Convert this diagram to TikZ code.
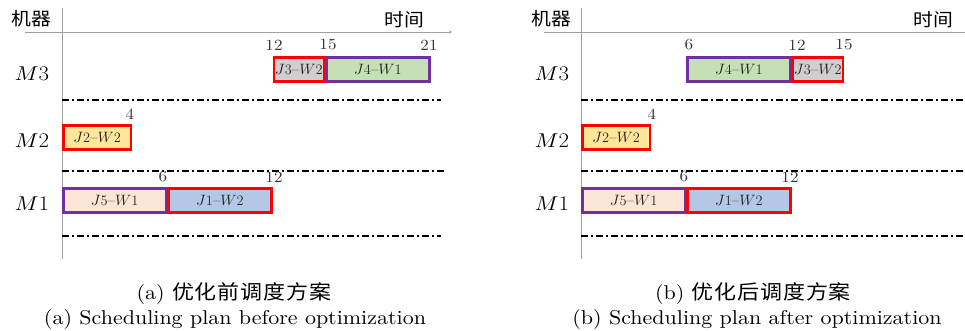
\documentclass[tikz,border=0pt]{standalone}
\usepackage{fontspec}
\usepackage{graphicx}
\setmainfont{lmroman10-regular.otf}[ItalicFont=lmroman10-italic.otf, BoldFont=lmroman10-bold.otf]
\newfontfamily\cjk{Noto Sans CJK SC}
\DeclareFontShape{OML}{cmm}{m}{it}{<->cmmi10}{}
\usetikzlibrary{arrows.meta}
\definecolor{cred}{HTML}{FF0000}
\definecolor{cpurple}{HTML}{7030A0}
\definecolor{cgrey}{HTML}{D0CECE}
\definecolor{cgreen}{HTML}{C5E0B4}
\definecolor{cyellow}{HTML}{FFE699}
\definecolor{cpeach}{HTML}{FBE5D6}
\definecolor{cblue}{HTML}{B4C7E7}
\definecolor{caxis}{HTML}{A0A0A0}
\newcommand\hs[1]{\scalebox{1.1}[1]{#1}}
\newcommand\gtask[8]{%
  \pgfmathsetmacro\gta{#2+#3*17.55}%
  \pgfmathsetmacro\gtb{#2+#4*17.55}%
  \pgfmathsetmacro\gtw{\gtb-\gta-2.6}%
  \pgfmathsetmacro\gtc{(\gta+\gtb)/2}%
  \node[taskbox, fill=#6, draw=#7, minimum width=\gtw pt] (#1) at (\gtc,#5) {#8};}
\newcommand\ck{\kern0.8pt}
\begin{document}
\begin{tikzpicture}[x=1pt,y=-1pt,
  taskbox/.style={line width=2.6pt, inner sep=0pt, minimum height=23.9pt, text=black!85,
    font=\fontsize{15}{15}\selectfont},
  tick/.style={font=\fontsize{15.5}{15.5}\selectfont, inner sep=0pt, text=black!80},
  axisline/.style={draw=caxis, line width=0.9pt},
  sepline/.style={line width=1.4pt, dash pattern=on 7pt off 3pt on 1.5pt off 3.5pt},
  mlabel/.style={font=\fontsize{20}{20}\selectfont, inner sep=0pt},
  cjklabel/.style={font=\cjk\fontsize{18}{18}\selectfont, inner sep=0pt},
  captxt/.style={font=\fontsize{20}{20}\selectfont, inner sep=0pt, anchor=base}
]
\useasboundingbox (0,0) rectangle (965,331);

% ---------------- left panel ----------------
\coordinate (La0) at (62,8);
\coordinate (La1) at (62,259);
\coordinate (Lh0) at (25,32);
\coordinate (Lh1) at (452,32);
\draw[axisline] (La0) -- (La1);
\draw[axisline, -{Stealth[length=3pt,width=3pt]}] (Lh0) -- (Lh1);
\node[cjklabel] (Ljq) at (31,19) {\hs{机器}};
\node[cjklabel] (Lsj) at (404,20) {\hs{时间}};
\node[mlabel] (LM3) at (32,74) {\hs{$M3$}};
\node[mlabel] (LM2) at (32,140.5) {\hs{$M2$}};
\node[mlabel] (LM1) at (32,203.5) {\hs{$M1$}};

\coordinate (Ls1a) at (62,100); \coordinate (Ls1b) at (441,100);
\coordinate (Ls2a) at (62,171); \coordinate (Ls2b) at (445,171);
\coordinate (Ls3a) at (62,236); \coordinate (Ls3b) at (441,236);
\draw[sepline] (Ls1a) -- (Ls1b);
\draw[sepline] (Ls2a) -- (Ls2b);
\draw[sepline] (Ls3a) -- (Ls3b);

\gtask{LJ3}{62}{12}{15}{69.5}{cgrey}{cred}{$J3$--$W2$}
\gtask{LJ4}{62}{15}{21}{69.5}{cgreen}{cpurple}{$J4$--$W1$}
\gtask{LJ2}{62}{0}{4}{137.5}{cyellow}{cred}{$J2$--$W2$}
\gtask{LJ5}{62}{0}{6}{200.5}{cpeach}{cpurple}{$J5$--$W1$}
\gtask{LJ1}{62}{6}{12}{200.5}{cblue}{cred}{$J1$--$W2$}

\node[tick] (Lt12a) at (274,45) {\hs{12}};
\node[tick] (Lt15) at (328,45) {\hs{15}};
\node[tick] (Lt21) at (429,45) {\hs{21}};
\node[tick] (Lt4) at (130,114) {\hs{4}};
\node[tick] (Lt6) at (163,177) {\hs{6}};
\node[tick] (Lt12b) at (274,177) {\hs{12}};

\node[captxt] (Lcap1) at (234,299) {\hs{(a) {\cjk 优\ck 化\ck 前\ck 调\ck 度\ck 方\ck 案}}};
\node[captxt] (Lcap2) at (235,324) {\hs{(a) Scheduling plan before optimization}};

% ---------------- right panel ----------------
\coordinate (Ra0) at (581,8);
\coordinate (Ra1) at (581,259);
\coordinate (Rh0) at (544,32);
\coordinate (Rh1) at (965,32);
\draw[axisline] (Ra0) -- (Ra1);
\draw[axisline] (Rh0) -- (Rh1);
\node[cjklabel] (Rjq) at (551,19) {\hs{机器}};
\node[cjklabel] (Rsj) at (933,20) {\hs{时间}};
\node[mlabel] (RM3) at (552,74) {\hs{$M3$}};
\node[mlabel] (RM2) at (552,140.5) {\hs{$M2$}};
\node[mlabel] (RM1) at (552,203.5) {\hs{$M1$}};

\coordinate (Rs1a) at (581,100); \coordinate (Rs1b) at (965,100);
\coordinate (Rs2a) at (581,171); \coordinate (Rs2b) at (965,171);
\coordinate (Rs3a) at (581,236); \coordinate (Rs3b) at (965,236);
\draw[sepline] (Rs1a) -- (Rs1b);
\draw[sepline] (Rs2a) -- (Rs2b);
\draw[sepline] (Rs3a) -- (Rs3b);

\gtask{RJ4}{581}{6}{12}{69.5}{cgreen}{cpurple}{$J4$--$W1$}
\gtask{RJ3}{581}{12}{15}{69.5}{cgrey}{cred}{$J3$--$W2$}
\gtask{RJ2}{581}{0}{4}{137.5}{cyellow}{cred}{$J2$--$W2$}
\gtask{RJ5}{581}{0}{6}{200.5}{cpeach}{cpurple}{$J5$--$W1$}
\gtask{RJ1}{581}{6}{12}{200.5}{cblue}{cred}{$J1$--$W2$}

\node[tick] (Rt6a) at (689,45) {\hs{6}};
\node[tick] (Rt12a) at (797,45) {\hs{12}};
\node[tick] (Rt15) at (844,45) {\hs{15}};
\node[tick] (Rt4) at (652,114) {\hs{4}};
\node[tick] (Rt6b) at (684,177) {\hs{6}};
\node[tick] (Rt12b) at (790,177) {\hs{12}};

\node[captxt] (Rcap1) at (753,299) {\hs{(b) {\cjk 优\ck 化\ck 后\ck 调\ck 度\ck 方\ck 案}}};
\node[captxt] (Rcap2) at (757,324) {\hs{(b) Scheduling plan after optimization}};
\end{tikzpicture}
\end{document}
